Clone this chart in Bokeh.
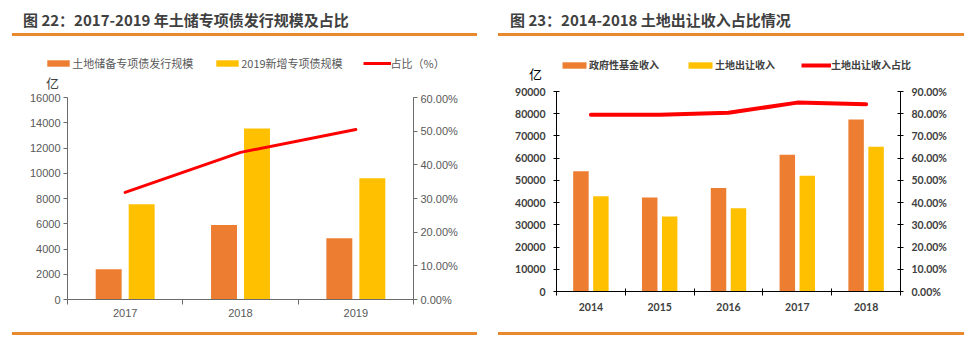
from bokeh.plotting import figure
from bokeh.models import (Range1d, LinearAxis, FixedTicker, NumeralTickFormatter, Legend,
                          LegendItem, Label, ColumnDataSource, Div)
from bokeh.transform import dodge
from bokeh.layouts import row, column
from bokeh.embed import file_html
from bokeh.resources import INLINE

# ---------------- data: chart 1 ----------------
title1 = "图 22：2017-2019 年土储专项债发行规模及占比"
years1 = ["2017", "2018", "2019"]
land_reserve_bonds = [2400, 5900, 4850]
new_special_bonds = [7550, 13550, 9600]
share1 = [0.318, 0.437, 0.505]
left_ticks1 = [0, 2000, 4000, 6000, 8000, 10000, 12000, 14000, 16000]
right_ticks1 = [0.0, 0.1, 0.2, 0.3, 0.4, 0.5, 0.6]
legend1 = ["土地储备专项债发行规模", "2019新增专项债规模", "占比（%）"]

# ---------------- data: chart 2 ----------------
title2 = "图 23：2014-2018 土地出让收入占比情况"
years2 = ["2014", "2015", "2016", "2017", "2018"]
gov_fund_income = [54100, 42300, 46600, 61500, 77400]
land_sale_income = [42900, 33700, 37500, 52100, 65100]
share2 = [0.795, 0.795, 0.804, 0.850, 0.843]
left_ticks2 = [0, 10000, 20000, 30000, 40000, 50000, 60000, 70000, 80000, 90000]
right_ticks2 = [0.0, 0.1, 0.2, 0.3, 0.4, 0.5, 0.6, 0.7, 0.8, 0.9]
legend2 = ["政府性基金收入", "土地出让收入", "土地出让收入占比"]

unit = "亿"
ORANGE = "#ED7D31"
YELLOW = "#FFC000"
RED = "#FF0000"
RULE = "#E8892F"
CJK = "Noto Sans CJK SC"

W = 485
PAGE_H = 343
HEAD_H = 37
FOOT_H = 15


def base_fig(height, top, bottom, left, right):
    p = figure(width=W, height=height, output_backend="svg", toolbar_location=None,
               x_axis_type=None, y_axis_type=None,
               min_border_left=left, min_border_right=right,
               min_border_top=top, min_border_bottom=bottom)
    p.frame_align = False
    p.outline_line_color = None
    p.background_fill_color = "white"
    p.border_fill_color = "white"
    return p


def build(cfg):
    n = len(cfg["years"])
    hb = cfg["header_bottom"]          # page y where the legend strip ends
    main_h = PAGE_H - FOOT_H - hb
    fl, fr, ft, fb = cfg["frame"]      # page px of the plot frame
    data = dict(x=[i + 0.5 for i in range(n)], a=cfg["a"], b=cfg["b"], s=cfg["s"])
    off, bw = cfg["offset"], cfg["bar_width"]

    # ---- legend strip (its own small plot; frame = whole strip) ----
    hh = hb - HEAD_H
    h = base_fig(hh, 0, 0, 0, 0)
    h.x_range = Range1d(0, n)
    h.y_range = Range1d(0, cfg["left_ticks"][-1])
    hsrc = ColumnDataSource(data)
    la = h.vbar(x="x", top="a", width=bw, source=hsrc, fill_color=ORANGE, line_color=None, visible=False)
    lb = h.vbar(x="x", top="b", width=bw, source=hsrc, fill_color=YELLOW, line_color=None, visible=False)
    ll = h.line(x="x", y="s", source=hsrc, line_color=RED, line_width=cfg["line_width"], visible=False)
    lg = Legend(items=[LegendItem(label=cfg["legend"][0], renderers=[la]),
                       LegendItem(label=cfg["legend"][1], renderers=[lb]),
                       LegendItem(label=cfg["legend"][2], renderers=[ll])],
                orientation="horizontal", location=(cfg["legend_x"], hb - cfg["legend_bottom"]),
                glyph_width=cfg["glyph_width"], glyph_height=8, label_height=12,
                label_standoff=0, spacing=cfg["spacing"], click_policy="none",
                inactive_fill_alpha=0,
                padding=0, margin=0, border_line_color=None, background_fill_alpha=0,
                label_text_font=CJK, label_text_font_size=cfg["legend_size"],
                label_text_color=cfg["legend_color"], label_text_font_style=cfg["legend_style"])
    h.add_layout(lg)
    ux, uy = cfg["unit_pos"]
    h.add_layout(Label(x=ux, y=hb - uy, x_units="screen", y_units="screen", text=unit,
                       text_font=CJK, text_font_size="13px", text_color=cfg["unit_color"],
                       text_align="center", text_baseline="middle"))

    # ---- main plot ----
    p = base_fig(main_h, ft - hb, hb + main_h - fb, fl, W - fr)
    p.x_range = Range1d(0, n)
    p.y_range = Range1d(0, cfg["left_ticks"][-1])
    p.extra_y_ranges = {"pct": Range1d(0, cfg["right_ticks"][-1])}

    src = ColumnDataSource(data)
    p.vbar(x=dodge("x", -off), top="a", width=bw, source=src, fill_color=ORANGE, line_color=None)
    p.vbar(x=dodge("x", off), top="b", width=bw, source=src, fill_color=YELLOW, line_color=None)
    p.line(x="x", y="s", source=src, y_range_name="pct", line_color=RED,
           line_width=cfg["line_width"], line_cap="round", line_join="round")

    common = dict(axis_line_color=cfg["axis_color"], major_tick_line_color=cfg["axis_color"],
                  minor_tick_line_color=None, major_label_text_font=cfg["tick_font"],
                  major_label_text_font_size=cfg["tick_size"], major_label_text_color=cfg["tick_color"],
                  major_label_text_font_style=cfg["tick_style"])
    yl = LinearAxis(ticker=FixedTicker(ticks=cfg["left_ticks"]), major_tick_out=cfg["tick_out"],
                    major_tick_in=cfg["tick_in"], major_label_standoff=cfg["y_standoff"], **common)
    p.add_layout(yl, "left")
    yr = LinearAxis(y_range_name="pct", ticker=FixedTicker(ticks=cfg["right_ticks"]),
                    formatter=NumeralTickFormatter(format="0.00%"), major_tick_out=cfg["tick_out"],
                    major_tick_in=cfg["tick_in"], major_label_standoff=cfg["y_standoff"], **common)
    p.add_layout(yr, "right")
    xc = dict(common)
    xc.update(major_tick_line_color=None, minor_tick_line_color=cfg["axis_color"])
    xa = LinearAxis(ticker=FixedTicker(ticks=[i + 0.5 for i in range(n)], minor_ticks=list(range(n + 1))),
                    major_label_overrides={i + 0.5: y for i, y in enumerate(cfg["years"])},
                    major_tick_out=0, major_tick_in=0, minor_tick_out=cfg["xtick_out"],
                    minor_tick_in=cfg["xtick_in"], major_label_standoff=cfg["x_standoff"], **xc)
    p.add_layout(xa, "below")

    head = Div(width=W, height=HEAD_H, margin=0, text=(
        f'<div style="position:relative;width:{W}px;height:{HEAD_H}px;">'
        f'<div style="position:absolute;left:{cfg["title_x"]}px;top:{cfg["title_top"]}px;'
        f'font-family:\'{CJK}\';font-weight:bold;font-size:{cfg["title_size"]};line-height:20px;'
        f'color:#404040;white-space:nowrap;">{cfg["title"]}</div>'
        f'<div style="position:absolute;left:{cfg["rule_x"][0]}px;top:33px;'
        f'width:{cfg["rule_x"][1] - cfg["rule_x"][0]}px;height:3px;background:{RULE};"></div></div>'))
    foot = Div(width=W, height=FOOT_H, margin=0, text=(
        f'<div style="position:relative;width:{W}px;height:{FOOT_H}px;">'
        f'<div style="position:absolute;left:{cfg["rule_x"][0]}px;top:{cfg["foot_top"]}px;'
        f'width:{cfg["rule_x"][1] - cfg["rule_x"][0]}px;height:3px;background:{RULE};"></div></div>'))
    return column(head, h, p, foot, spacing=0)


cfg1 = dict(years=years1, a=land_reserve_bonds, b=new_special_bonds, s=share1,
            left_ticks=left_ticks1, right_ticks=right_ticks1, legend=legend1, title=title1,
            header_bottom=92, frame=(67, 413, 97, 299), offset=0.143, bar_width=0.225, line_width=3,
            tick_font="Liberation Sans", tick_size="11px", tick_color="#595959", tick_style="normal",
            axis_color="#6b6b6b", tick_out=4, tick_in=0, y_standoff=3,
            xtick_out=5, xtick_in=0, x_standoff=4,
            legend_x=44.2, legend_bottom=71, glyph_width=28, spacing=20,
            legend_size="11px", legend_color="#595959", legend_style="normal",
            title_x=23, title_top=10, title_size="15px",
            unit_pos=(52, 82), unit_color="#404040",
            rule_x=(12, 477), foot_top=4)

cfg2 = dict(years=years2, a=gov_fund_income, b=land_sale_income, s=share2,
            left_ticks=left_ticks2, right_ticks=right_ticks2, legend=legend2, title=title2,
            header_bottom=83, frame=(71, 415, 91, 291), offset=0.145, bar_width=0.225, line_width=4,
            tick_font="Lato", tick_size="10.5px", tick_color="#404040", tick_style="bold",
            axis_color="#000000", tick_out=3, tick_in=3, y_standoff=8,
            xtick_out=4, xtick_in=3, x_standoff=7,
            legend_x=74, legend_bottom=72.25, glyph_width=30, spacing=26,
            legend_size="10px", legend_color="#404040", legend_style="bold",
            title_x=25, title_top=10, title_size="15px",
            unit_pos=(50, 72.7), unit_color="#000000",
            rule_x=(13, 479), foot_top=4)

layout = row(build(cfg1), build(cfg2), spacing=0)
open("out.html", "w").write(file_html(layout, INLINE))
